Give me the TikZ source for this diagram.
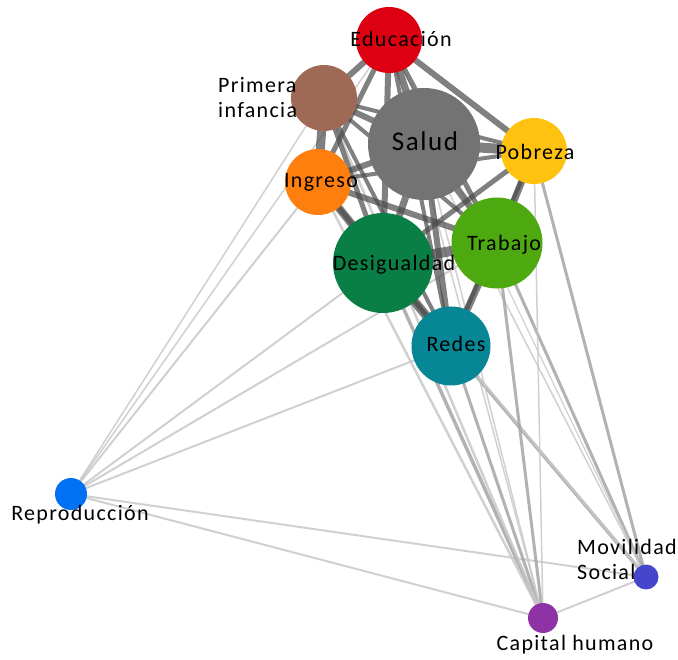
\documentclass[tikz,border=0pt]{standalone}
\usepackage{fontspec}
\setmainfont{Carlito}[LetterSpace=6]
\usetikzlibrary{backgrounds}
\definecolor{cEdu}{HTML}{DD0010}
\definecolor{cPri}{HTML}{9E6A55}
\definecolor{cSal}{HTML}{737373}
\definecolor{cPob}{HTML}{FFC20E}
\definecolor{cIng}{HTML}{FF7F0E}
\definecolor{cTra}{HTML}{4EA80F}
\definecolor{cDes}{HTML}{097E45}
\definecolor{cRed}{HTML}{078696}
\definecolor{cRep}{HTML}{0070F5}
\definecolor{cMov}{HTML}{4646CC}
\definecolor{cCap}{HTML}{8E32A6}
\definecolor{cCore}{HTML}{4A4A4A}
\definecolor{cThin}{HTML}{C8C8C8}
\definecolor{cMid}{HTML}{A4A4A4}
\tikzset{
  vert/.style={circle, inner sep=0pt, draw=none},
  lab/.style={font=\fontsize{22}{25}\selectfont, text=black, inner sep=0pt},
  core/.style={draw=cCore, draw opacity=0.7},
  thin/.style={draw=cThin, draw opacity=0.85},
  mid/.style={draw=cMid, draw opacity=0.85},
}
\begin{document}
\begin{tikzpicture}[x=1pt,y=-1pt]
\useasboundingbox (0,0) rectangle (678,660);
% vertices
\node[vert, fill=cEdu, minimum size=66pt] (E) at (389,40) {};
\node[vert, fill=cPri, minimum size=66pt] (P) at (324,98) {};
\node[vert, fill=cSal, minimum size=112pt] (S) at (424,144) {};
\node[vert, fill=cPob, minimum size=66pt] (Po) at (534,151) {};
\node[vert, fill=cIng, minimum size=66pt] (I) at (318,182) {};
\node[vert, fill=cTra, minimum size=91pt] (T) at (497,243) {};
\node[vert, fill=cDes, minimum size=100pt] (D) at (383,263) {};
\node[vert, fill=cRed, minimum size=79pt] (R) at (451,346) {};
\node[vert, fill=cRep, minimum size=32pt] (Rp) at (71,494) {};
\node[vert, fill=cMov, minimum size=25pt] (MS) at (646,577) {};
\node[vert, fill=cCap, minimum size=30pt] (CH) at (543,618) {};
% edges
\begin{scope}[on background layer]
  % thin edges
  \draw[thin, line width=1.5pt] (Rp.center) -- (P.center);
  \draw[thin, line width=1.5pt] (Rp.center) -- (E.center);
  \draw[thin, line width=2pt] (Rp.center) -- (I.center);
  \draw[thin, line width=2pt] (Rp.center) -- (D.center);
  \draw[thin, line width=2pt] (Rp.center) -- (T.center);
  \draw[thin, line width=2pt] (Rp.center) -- (R.center);
  \draw[thin, line width=2pt] (Rp.center) -- (MS.center);
  \draw[thin, line width=2pt] (Rp.center) -- (CH.center);
  \draw[mid, line width=3.5pt] (MS.center) -- (R.center);
  \draw[mid, line width=3pt] (MS.center) -- (T.center);
  \draw[mid, line width=3pt] (MS.center) -- (Po.center);
  \draw[thin, line width=1.5pt] (MS.center) -- (S.center);
  \draw[thin, line width=2pt] (MS.center) -- (D.center);
  \draw[thin, line width=1.2pt] (MS.center) -- (E.center);
  \draw[thin, line width=2pt] (MS.center) -- (CH.center);
  \draw[mid, line width=3pt] (CH.center) -- (R.center);
  \draw[mid, line width=3.5pt] (CH.center) -- (D.center);
  \draw[thin, line width=2.5pt] (CH.center) -- (I.center);
  \draw[thin, line width=2.5pt] (CH.center) -- (P.center);
  \draw[thin, line width=1.5pt] (CH.center) -- (S.center);
  \draw[thin, line width=1.5pt] (CH.center) -- (E.center);
  \draw[mid, line width=3pt] (CH.center) -- (T.center);
  \draw[thin, line width=1.5pt] (CH.center) -- (Po.center);
  % core edges
  \draw[core, line width=6pt] (E.center) -- (P.center);
  \draw[core, line width=7pt] (E.center) -- (S.center);
  \draw[core, line width=6pt] (E.center) -- (Po.center);
  \draw[core, line width=5pt] (E.center) -- (I.center);
  \draw[core, line width=6pt] (E.center) -- (D.center);
  \draw[core, line width=5pt] (E.center) -- (T.center);
  \draw[core, line width=4pt] (E.center) -- (R.center);
  \draw[core, line width=6pt] (P.center) -- (S.center);
  \draw[core, line width=9pt] (P.center) -- (I.center);
  \draw[core, line width=5pt] (P.center) -- (D.center);
  \draw[core, line width=4pt] (P.center) -- (T.center);
  \draw[core, line width=4pt] (P.center) -- (R.center);
  \draw[core, line width=4pt] (P.center) -- (Po.center);
  \draw[core, line width=10pt] (S.center) -- (Po.center);
  \draw[core, line width=6pt] (S.center) -- (I.center);
  \draw[core, line width=7pt] (S.center) -- (D.center);
  \draw[core, line width=7pt] (S.center) -- (T.center);
  \draw[core, line width=6pt] (S.center) -- (R.center);
  \draw[core, line width=4pt] (Po.center) -- (I.center);
  \draw[core, line width=5pt] (Po.center) -- (D.center);
  \draw[core, line width=7pt] (Po.center) -- (T.center);
  \draw[core, line width=4pt] (Po.center) -- (R.center);
  \draw[core, line width=8pt] (I.center) -- (D.center);
  \draw[core, line width=6pt] (I.center) -- (T.center);
  \draw[core, line width=5pt] (I.center) -- (R.center);
  \draw[core, line width=10pt] (D.center) -- (T.center);
  \draw[core, line width=9pt] (D.center) -- (R.center);
  \draw[core, line width=7pt] (T.center) -- (R.center);
\end{scope}
% labels
\node[lab] (Elab) at (401,39) {Educación};
\node[lab, align=left, anchor=west] (Plab) at (218,97.5) {Primera\\infancia};
\node[lab, font=\fontsize{27}{30}\selectfont] (Slab) at (425,141) {Salud};
\node[lab] (Polab) at (535,152) {Pobreza};
\node[lab] (Ilab) at (321,182) {Ingreso};
\node[lab] (Tlab) at (504,245) {Trabajo};
\node[lab] (Dlab) at (394,265) {Desigualdad};
\node[lab] (Rlab) at (456,344) {Redes};
\node[lab] (Rplab) at (80,515) {Reproducción};
\node[lab, align=left, anchor=west] (MSlab) at (577,559.5) {Movilidad\\Social};
\node[lab] (CHlab) at (575,645) {Capital humano};
\end{tikzpicture}
\end{document}
